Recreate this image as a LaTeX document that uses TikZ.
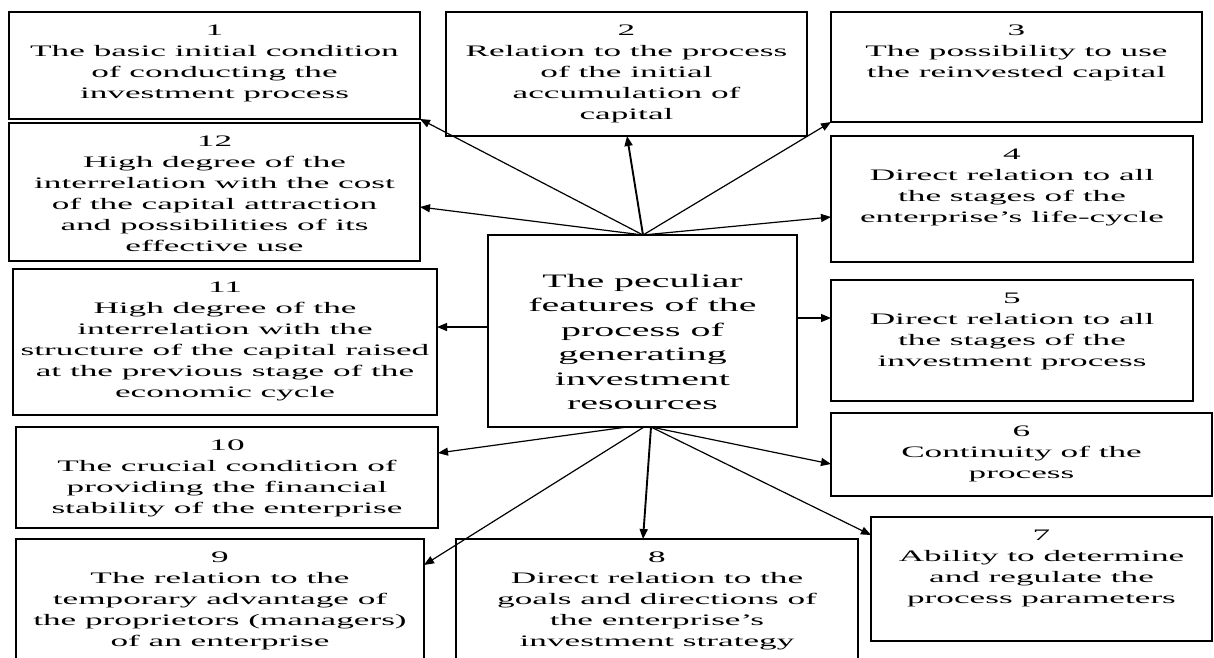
\documentclass[tikz,border=0pt]{standalone}
\usepackage{fontspec}
\setmainfont{Liberation Serif}[FakeStretch=2.2]
\newfontfamily\centrefont{Liberation Serif}[FakeStretch=2.1]
\usetikzlibrary{arrows.meta,calc}
\tikzset{
  box/.style={draw=black, line width=1.1pt, inner sep=0pt, outer sep=0pt, anchor=north west, fill=white},
  txt/.style={anchor=north, inner sep=0pt, align=center, font=\fontsize{16}{21}\selectfont},
  ctxt/.style={anchor=north, inner sep=0pt, align=center, font=\centrefont\fontsize{19}{24.5}\selectfont},
  arr/.style={draw=black, line width=1.2pt, -{Triangle[length=10pt,width=8pt]}},
  barr/.style={arr, line width=1.9pt}
}
\newcommand{\bx}[6]{% name, x1, y1, x2, y2, text
  \node[box, minimum width={#4-#2}, minimum height={#5-#3}] (#1) at (#2,#3) {};
  \node[txt] (t#1) at ([yshift=-12.5pt]#1.north) {#6};
}
\begin{document}
\begin{tikzpicture}[x=1pt,y=-1pt]
\clip (0,0) rectangle (1214,657);
\fill[white] (0,0) rectangle (1214,657);

\bx{b1}{9}{12}{420}{119}{1\\The basic initial condition\\of conducting the\\investment process}
\bx{b2}{446}{12}{807}{136}{2\\Relation to the process\\of the initial\\accumulation of\\capital}
\bx{b3}{831}{12}{1202}{122}{3\\The possibility to use\\the reinvested capital}
\bx{b12}{9}{123}{420}{261}{12\\High degree of the\\interrelation with the cost\\of the capital attraction\\and possibilities of its\\effective use}
\bx{b4}{831}{136}{1193}{262}{4\\Direct relation to all\\the stages of the\\enterprise’s life-cycle}
\bx{b11}{13}{269}{437}{415}{11\\High degree of the\\interrelation with the\\structure of the capital raised\\at the previous stage of the\\economic cycle}
\bx{b5}{831}{280}{1193}{401}{5\\Direct relation to all\\the stages of the\\investment process}
\bx{b10}{16}{427}{438}{528}{10\\The crucial condition of\\providing the financial\\stability of the enterprise}
\bx{b6}{831}{413}{1212}{496}{6\\Continuity of the\\process}
\bx{b7}{871}{517}{1212}{641}{7\\Ability to determine\\and regulate the\\process parameters}
\bx{b9}{16}{539}{424}{670}{9\\The relation to the\\temporary advantage of\\the proprietors (managers)\\of an enterprise}
\bx{b8}{456}{539}{858}{670}{8\\Direct relation to the\\goals and directions of\\the enterprise’s\\investment strategy}

\node[box, minimum width=309pt, minimum height=192pt] (c) at (488,235) {};
\node[ctxt] (tc) at (642.5,274) {The peculiar\\features of the\\process of\\generating\\investment\\resources};

% origins on the central box
\coordinate (oT) at (643,235);
\coordinate (oL) at (488,327);
\coordinate (oR) at (797,318);
\coordinate (oB1) at (627,427);
\coordinate (oB2) at (644,427);
\coordinate (oB3) at (651,427);
% arrow tips
\coordinate (e12) at (420,207);
\coordinate (e2) at (627,136);
\coordinate (e4) at (831,217);
\coordinate (e11) at (437,327);
\coordinate (e5) at (831,318);
\coordinate (e10) at (438,453);
\coordinate (e9) at (424,565);
\coordinate (e8) at (643,539);
\coordinate (e6) at (831,464);
\coordinate (e7) at (871,535);

\draw[arr] (oT) -- (b1.south east);
\draw[arr] (oT) -- (e12);
\draw[barr] (oT) -- (e2);
\draw[arr] (oT) -- (b3.south west);
\draw[arr] (oT) -- (e4);
\draw[arr] (oL) -- (e11);
\draw[arr] (oR) -- (e5);
\draw[arr] (oB1) -- (e10);
\draw[arr] (oB2) -- (e9);
\draw[barr] (oB3) -- (e8);
\draw[arr] (oB3) -- (e6);
\draw[arr] (oB3) -- (e7);
\end{tikzpicture}
\end{document}
